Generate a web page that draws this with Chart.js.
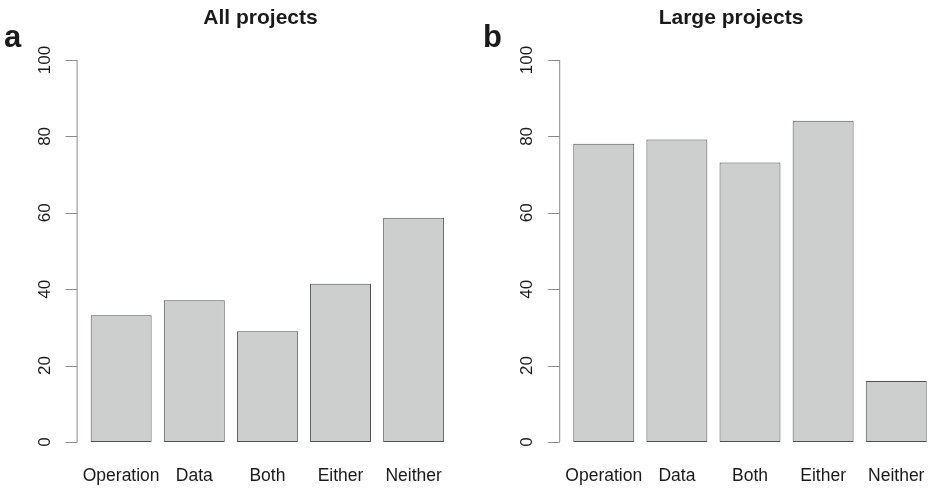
<!DOCTYPE html>
<html>
<head>
<meta charset="utf-8">
<script src="https://cdn.jsdelivr.net/npm/chart.js@4.4.1/dist/chart.umd.min.js"></script>
<style>
  html, body { margin: 0; padding: 0; background: #ffffff; overflow: hidden; }
  #wrap { position: relative; width: 930px; height: 488px; overflow: hidden; }
  .panel { position: absolute; top: 0; }
  #panelA { left: 0; width: 465px; height: 488px; }
  #panelB { left: 465px; width: 480px; height: 488px; }
</style>
</head>
<body>
<div id="wrap">
  <div class="panel" id="panelA"><canvas id="chartA"></canvas></div>
  <div class="panel" id="panelB"><canvas id="chartB"></canvas></div>
</div>
<script>
// Categories shared by both panels
const categories = ["Operation", "Data", "Both", "Either", "Neither"];

// Percentage of projects in each category
const allProjects = [33.2, 37.1, 29.0, 41.4, 58.7];
const largeProjects = [78.1, 79.2, 73.2, 84.1, 16.0];

// Value axis
const yMin = 0;
const yMax = 100;
const yStep = 20;

// Panel headings
const panelTitles = ["All projects", "Large projects"];
const panelLetters = ["a", "b"];

const FONT = '"Liberation Sans", Arial, Helvetica, sans-serif';
const TEXT = "#1a1a1a";
const BAR_FILL = "#cdcfce";
const BAR_EDGE = "#505050";
const AXIS = "#8a8a8a";

// Draws an R-style left axis (line spanning the tick range, outward ticks,
// labels rotated to read bottom-to-top) set a little off the plot area,
// plus the panel heading and letter.
const rAxisPlugin = {
  id: "rAxis",
  afterDraw(chart, args, opts) {
    const ctx = chart.ctx;
    const y = chart.scales.y;
    const axX = chart.chartArea.left - opts.gap;
    const ticks = y.ticks;
    const top = y.getPixelForValue(ticks[ticks.length - 1].value);
    const bottom = y.getPixelForValue(ticks[0].value);

    ctx.save();
    ctx.strokeStyle = AXIS;
    ctx.lineWidth = 1;
    ctx.beginPath();
    ctx.moveTo(axX + 0.5, top);
    ctx.lineTo(axX + 0.5, bottom);
    ticks.forEach(t => {
      const py = Math.round(y.getPixelForValue(t.value)) + 0.5;
      ctx.moveTo(axX + 0.5, py);
      ctx.lineTo(axX - opts.tickLen, py);
    });
    ctx.stroke();

    ctx.fillStyle = TEXT;
    ctx.font = "17px " + FONT;
    ctx.textAlign = "center";
    ctx.textBaseline = "alphabetic";
    ticks.forEach(t => {
      const py = y.getPixelForValue(t.value);
      ctx.save();
      ctx.translate(axX - opts.labelOffset, py);
      ctx.rotate(-Math.PI / 2);
      ctx.fillText(String(t.value), 0, 0);
      ctx.restore();
    });

    // heading
    ctx.font = "bold 21px " + FONT;
    ctx.textAlign = "center";
    ctx.fillText(opts.title, opts.titleX, 24);

    // panel letter
    ctx.font = "bold 31px " + FONT;
    ctx.textAlign = "left";
    ctx.fillText(opts.letter, opts.letterX, 47);
    ctx.restore();
  }
};

function makePanel(canvasId, values, idx, pad, titleX, letterX) {
  return new Chart(document.getElementById(canvasId), {
    type: "bar",
    data: {
      labels: categories,
      datasets: [{
        data: values,
        backgroundColor: BAR_FILL,
        borderColor: BAR_EDGE,
        borderWidth: 1,
        borderSkipped: false,
        categoryPercentage: 1.0,
        barPercentage: 1 / 1.2
      }]
    },
    options: {
      responsive: true,
      maintainAspectRatio: false,
      animation: false,
      devicePixelRatio: 1,
      layout: { padding: pad },
      plugins: {
        legend: { display: false },
        tooltip: { enabled: false },
        title: { display: false },
        rAxis: {
          gap: 8,
          tickLen: 11,
          labelOffset: 27,
          title: panelTitles[idx],
          letter: panelLetters[idx],
          titleX: titleX,
          letterX: letterX
        }
      },
      scales: {
        x: {
          type: "category",
          offset: true,
          grid: { display: false, drawTicks: false },
          border: { display: false },
          ticks: {
            color: TEXT,
            font: { family: FONT, size: 17.5 },
            padding: 24,
            maxRotation: 0,
            autoSkip: false
          },
          afterFit(scale) {
            // fixed axis band; labels may overhang the slot edges
            scale.height = 46;
            scale.paddingLeft = 0;
            scale.paddingRight = 0;
          }
        },
        y: {
          display: false,
          min: yMin,
          max: yMax,
          ticks: { stepSize: yStep }
        }
      }
    },
    plugins: [rAxisPlugin]
  });
}

makePanel("chartA", allProjects, 0,
  { left: 84.6, right: 14.8, top: 60, bottom: 0 }, 260.5, 4);
makePanel("chartB", largeProjects, 1,
  { left: 102.2, right: 12.2, top: 60, bottom: 0 }, 266, 18);
</script>
</body>
</html>
